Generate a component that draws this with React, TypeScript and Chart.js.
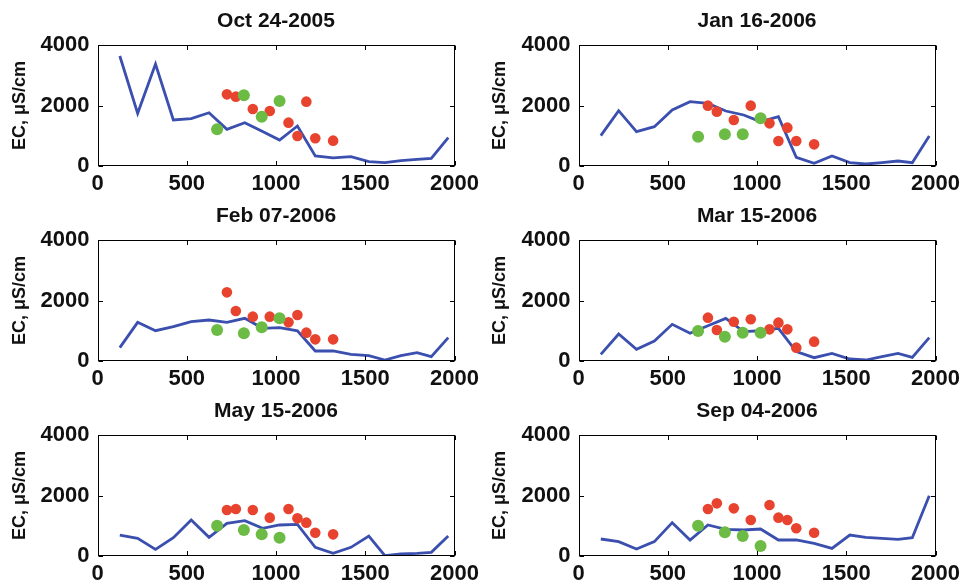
import { useEffect, useRef } from 'react';
import { Chart, registerables } from 'chart.js';

Chart.register(...registerables);

// Distance along the section (shared x positions)
const lineX = [125, 225, 325, 425, 525, 625, 725, 825, 925, 1020, 1120, 1220, 1320, 1420, 1520, 1610, 1700, 1790, 1870, 1965];
const redX = [725, 775, 870, 965, 1070, 1120, 1170, 1220, 1320];
const greenX = [670, 820, 920, 1020];

const xTicks = [0, 500, 1000, 1500, 2000];
const yTicks = [0, 2000, 4000];
const yLabel = 'EC, μS/cm';

const titles = ['Oct 24-2005', 'Jan 16-2006', 'Feb 07-2006', 'Mar 15-2006', 'May 15-2006', 'Sep 04-2006'];

const oct2005Line = [3637, 1741, 3372, 1521, 1565, 1760, 1212, 1433, 1140, 860, 1322, 331, 270, 309, 143, 110, 176, 220, 253, 937];
const oct2005Red = [2369, 2292, 1884, 1818, 1433, 992, 2127, 915, 838];
const oct2005Green = [1212, 2336, 1631, 2149];

const jan2006Line = [1003, 1829, 1135, 1300, 1851, 2127, 2072, 1818, 1686, 1466, 1631, 287, 88, 331, 110, 66, 110, 165, 110, 992];
const jan2006Red = [1995, 1796, 1521, 1995, 1410, 826, 1267, 826, 716];
const jan2006Green = [970, 1047, 1047, 1576];

const feb2006Line = [441, 1278, 1003, 1135, 1300, 1355, 1278, 1410, 1080, 1100, 1000, 331, 331, 220, 176, 33, 176, 275, 143, 771];
const feb2006Red = [2270, 1653, 1466, 1466, 1278, 1521, 937, 716, 716];
const feb2006Green = [1025, 915, 1113, 1410];

const mar2006Line = [220, 893, 386, 661, 1212, 915, 1168, 1410, 970, 1000, 1080, 309, 110, 253, 66, 33, 143, 253, 121, 771];
const mar2006Red = [1433, 1025, 1300, 1378, 1047, 1267, 1047, 441, 639];
const mar2006Green = [992, 804, 937, 937];

const may2006Line = [694, 584, 220, 606, 1190, 617, 1080, 1168, 915, 1025, 1047, 287, 88, 287, 661, 11, 66, 88, 121, 661];
const may2006Red = [1521, 1554, 1521, 1267, 1554, 1245, 1102, 771, 716];
const may2006Green = [1003, 860, 716, 606];

const sep2006Line = [562, 474, 231, 474, 1102, 529, 1025, 882, 860, 893, 529, 529, 419, 253, 694, 617, 584, 551, 606, 1995];
const sep2006Red = [1554, 1741, 1576, 1190, 1686, 1267, 1190, 915, 771];
const sep2006Green = [1003, 782, 661, 331];

const panels = [
  { title: titles[0], line: oct2005Line, red: oct2005Red, green: oct2005Green },
  { title: titles[1], line: jan2006Line, red: jan2006Red, green: jan2006Green },
  { title: titles[2], line: feb2006Line, red: feb2006Red, green: feb2006Green },
  { title: titles[3], line: mar2006Line, red: mar2006Red, green: mar2006Green },
  { title: titles[4], line: may2006Line, red: may2006Red, green: may2006Green },
  { title: titles[5], line: sep2006Line, red: sep2006Red, green: sep2006Green },
];

const BLUE = '#3a4fae';
const RED = '#e8432f';
const GREEN = '#6cbb45';
const FONT = '"Liberation Sans", Arial, Helvetica, sans-serif';

const boxPlugin = {
  id: 'matlabBox',
  afterDraw(chart: any) {
    const { ctx, chartArea, scales } = chart;
    const l = Math.round(chartArea.left) + 0.5;
    const r = Math.round(chartArea.right) - 0.5;
    const t = Math.round(chartArea.top) + 0.5;
    const b = Math.round(chartArea.bottom) - 0.5;
    ctx.save();
    ctx.strokeStyle = '#000';
    ctx.lineWidth = 1;
    ctx.strokeRect(l, t, r - l, b - t);
    ctx.beginPath();
    const len = 4.5;
    scales.x.ticks.forEach((tk: any) => {
      const px = Math.round(scales.x.getPixelForValue(tk.value)) + 0.5;
      ctx.moveTo(px, b); ctx.lineTo(px, b - len);
      ctx.moveTo(px, t); ctx.lineTo(px, t + len);
    });
    scales.y.ticks.forEach((tk: any) => {
      const py = Math.round(scales.y.getPixelForValue(tk.value)) + 0.5;
      ctx.moveTo(l, py); ctx.lineTo(l + len, py);
      ctx.moveTo(r, py); ctx.lineTo(r - len, py);
    });
    ctx.stroke();
    ctx.restore();
  },
};

function Panel({ p, col }: { p: any; col: number }) {
  const ref = useRef<HTMLCanvasElement>(null);
  const width = col === 0 ? 480 : 485;
  const height = 195;
  useEffect(() => {
    if (!ref.current) return;
    const yWidth = col === 0 ? 97.5 : 98.5;
    const padRight = col === 0 ? 25.5 : 29.5;
    const tickFont = { family: FONT, size: 22, weight: 'bold' as const };
    const chart = new Chart(ref.current, {
      type: 'scatter',
      data: {
        datasets: [
          {
            data: greenX.map((x, i) => ({ x, y: p.green[i] })),
            backgroundColor: GREEN,
            borderColor: GREEN,
            borderWidth: 0,
            pointRadius: 6,
            order: 0,
          },
          {
            data: redX.map((x, i) => ({ x, y: p.red[i] })),
            backgroundColor: RED,
            borderColor: RED,
            borderWidth: 0,
            pointRadius: 5.3,
            order: 1,
          },
          {
            data: lineX.map((x, i) => ({ x, y: p.line[i] })),
            showLine: true,
            borderColor: BLUE,
            backgroundColor: BLUE,
            borderWidth: 2.8,
            pointRadius: 0,
            tension: 0,
            order: 2,
          } as any,
        ],
      },
      options: {
        animation: false,
        responsive: false,
        maintainAspectRatio: false,
        events: [],
        layout: { padding: { left: 0, right: padRight, top: 0, bottom: 0 } },
        plugins: {
          legend: { display: false },
          tooltip: { enabled: false },
          title: {
            display: true,
            fullSize: false,
            text: p.title,
            color: '#111',
            font: { family: FONT, size: 21, weight: 'bold', lineHeight: 1.2 },
            padding: { top: 9, bottom: 10.8 },
          },
        },
        scales: {
          x: {
            type: 'linear',
            min: 0,
            max: 2000,
            afterBuildTicks: (s: any) => { s.ticks = xTicks.map((v) => ({ value: v })); },
            ticks: {
              color: '#111',
              font: tickFont,
              padding: 5,
              maxRotation: 0,
              autoSkip: false,
              callback: (v: any) => String(v),
            },
            grid: { display: false, drawTicks: false },
            border: { display: false },
            afterFit: (s: any) => { s.height = 29; s.paddingLeft = 0; s.paddingRight = 0; },
          },
          y: {
            type: 'linear',
            min: 0,
            max: 4000,
            afterBuildTicks: (s: any) => { s.ticks = yTicks.map((v) => ({ value: v })); },
            ticks: {
              color: '#111',
              font: tickFont,
              padding: 8,
              autoSkip: false,
              callback: (v: any) => String(v),
            },
            title: {
              display: true,
              text: yLabel,
              color: '#111',
              font: { family: FONT, size: 18, weight: 'bold', lineHeight: 1.2 },
              padding: { top: 9, bottom: 0 },
            },
            grid: { display: false, drawTicks: false },
            border: { display: false },
            afterFit: (s: any) => { s.width = yWidth; s.paddingTop = 0; s.paddingBottom = 0; },
          },
        },
      } as any,
      plugins: [boxPlugin],
    });
    return () => chart.destroy();
  }, [p, col]);
  return (
    <canvas
      ref={ref}
      width={width}
      height={height}
      style={{ width: width + 'px', height: height + 'px', display: 'block' }}
    />
  );
}

export default function App() {
  return (
    <div style={{ position: 'absolute', left: 0, top: 0, width: 965, height: 585, background: '#fff' }}>
      {panels.map((p, i) => {
        const col = i % 2;
        const row = Math.floor(i / 2);
        return (
          <div
            key={i}
            style={{ position: 'absolute', left: col === 0 ? 0 : 480, top: row * 195, width: col === 0 ? 480 : 485, height: 195 }}
          >
            <Panel p={p} col={col} />
          </div>
        );
      })}
    </div>
  );
}
